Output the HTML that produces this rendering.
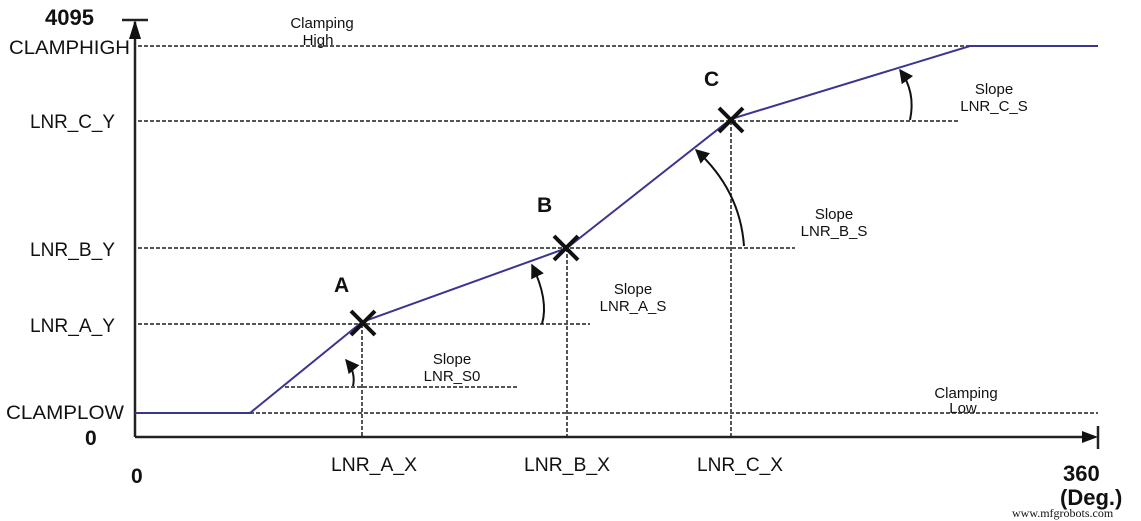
<!DOCTYPE html>
<html><head><meta charset="utf-8"><style>html,body{margin:0;padding:0;background:#fff;}svg{display:block}</style></head>
<body>
<svg width="1141" height="521" viewBox="0 0 1141 521" xmlns="http://www.w3.org/2000/svg" font-family="Liberation Sans, sans-serif">
<defs>
<marker id="ah" viewBox="0 0 10 10" refX="9" refY="5" markerWidth="7" markerHeight="7" orient="auto-start-reverse"><path d="M0,0 L10,5 L0,10 z" fill="#111"/></marker>
</defs>
<g stroke="#555" stroke-width="2" stroke-dasharray="4,2" fill="none">
<line x1="138" y1="46" x2="1098" y2="46"/>
<line x1="138" y1="121" x2="958" y2="121"/>
<line x1="138" y1="248" x2="795" y2="248"/>
<line x1="138" y1="324" x2="590" y2="324"/>
<line x1="250" y1="413" x2="1098" y2="413"/>
<line x1="285" y1="387" x2="517" y2="387"/>
<line x1="362" y1="324" x2="362" y2="437"/>
<line x1="567" y1="248" x2="567" y2="437"/>
<line x1="731" y1="121" x2="731" y2="437"/>
</g>
<g stroke="#222" stroke-width="2.5" fill="none">
<line x1="135" y1="437" x2="135" y2="22"/>
<line x1="122" y1="20" x2="148" y2="20"/>
<line x1="135" y1="437" x2="1094" y2="437"/>
<line x1="1098" y1="426" x2="1098" y2="449"/>
</g>
<path d="M135,14 L129,33 L141,33 z" fill="#111" transform="translate(0,6)"/>
<path d="M1098,437 L1082,431 L1082,443 z" fill="#111"/>
<polyline points="135,413 250,413 362,322 567,248 731,119 970,46 1098,46" fill="none" stroke="#3b3590" stroke-width="2"/>
<g stroke="#111" stroke-width="4">
<line x1="351" y1="311" x2="375" y2="335"/><line x1="375" y1="311" x2="351" y2="335"/>
<line x1="554" y1="236" x2="578" y2="260"/><line x1="578" y1="236" x2="554" y2="260"/>
<line x1="719" y1="108" x2="743" y2="132"/><line x1="743" y1="108" x2="719" y2="132"/>
</g>
<g stroke="#111" stroke-width="2" fill="none" marker-end="url(#ah)">
<path d="M353,386 Q356,372 346,360"/>
<path d="M542,324 Q549,300 532,265"/>
<path d="M744,246 Q740,190 696,150"/>
<path d="M910,120 Q916,92 900,70"/>
</g>
<g fill="#111" font-weight="bold" font-size="21">
<text x="334" y="292">A</text>
<text x="537" y="212">B</text>
<text x="704" y="86">C</text>
<text x="45" y="25" font-size="22">4095</text>
<text x="85" y="445">0</text>
<text x="131" y="483">0</text>
<text x="1063" y="481" font-size="22">360</text>
<text x="1060" y="505" font-size="22">(Deg.)</text>
</g>
<g fill="#111" font-size="19">
<text x="9" y="54" textLength="121" lengthAdjust="spacingAndGlyphs">CLAMPHIGH</text>
<text x="30" y="128" textLength="85" lengthAdjust="spacingAndGlyphs">LNR_C_Y</text>
<text x="30" y="256" textLength="85" lengthAdjust="spacingAndGlyphs">LNR_B_Y</text>
<text x="30" y="332" textLength="85" lengthAdjust="spacingAndGlyphs">LNR_A_Y</text>
<text x="6" y="419" textLength="118" lengthAdjust="spacingAndGlyphs">CLAMPLOW</text>
<text x="331" y="471" textLength="86" lengthAdjust="spacingAndGlyphs">LNR_A_X</text>
<text x="524" y="471" textLength="86" lengthAdjust="spacingAndGlyphs">LNR_B_X</text>
<text x="697" y="471" textLength="86" lengthAdjust="spacingAndGlyphs">LNR_C_X</text>
</g>
<g fill="#111" font-size="15" text-anchor="middle">
<text x="322" y="28">Clamping</text><text x="318" y="45">High</text>
<text x="452" y="364">Slope</text><text x="452" y="381">LNR_S0</text>
<text x="633" y="294">Slope</text><text x="633" y="311">LNR_A_S</text>
<text x="834" y="219">Slope</text><text x="834" y="236">LNR_B_S</text>
<text x="994" y="94">Slope</text><text x="994" y="111">LNR_C_S</text>
<text x="966" y="398">Clamping</text><text x="963" y="413">Low</text>
</g>
<text x="1012" y="517" font-family="Liberation Serif, serif" font-size="12" fill="#111">www.mfgrobots.com</text>
</svg>
</body></html>
